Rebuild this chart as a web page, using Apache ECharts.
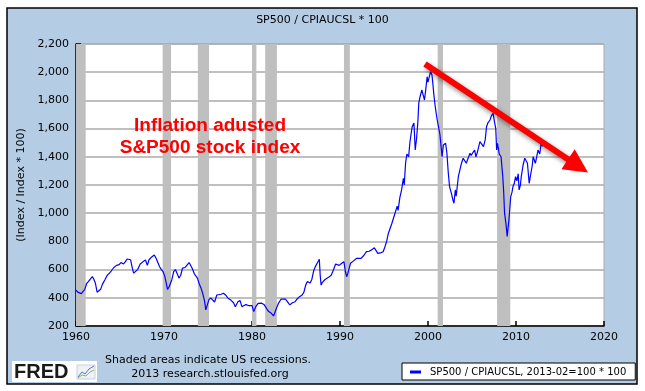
<!DOCTYPE html>
<html><head><meta charset="utf-8">
<script src="https://cdn.jsdelivr.net/npm/echarts/dist/echarts.min.js"></script>
<style>html,body{margin:0;padding:0;background:#fff}#c{width:645px;height:391px}</style>
</head><body><div id="c"></div>
<script>
const chartTitle = 'SP500 / CPIAUCSL * 100';
const seriesName = 'SP500 / CPIAUCSL, 2013-02=100 * 100';
const yAxisName = '(Index / Index * 100)';
const xTicks = [1960, 1970, 1980, 1990, 2000, 2010, 2020];
const yTicks = [200, 400, 600, 800, 1000, 1200, 1400, 1600, 1800, 2000, 2200];

const dates = [
1960.0,1960.2,1960.4,1960.6,1960.8,1961.0,1961.2,1961.4,1961.6,1961.85,
1962.0,1962.2,1962.4,1962.55,1962.8,1963.0,1963.3,1963.55,1963.8,1964.0,
1964.3,1964.6,1964.9,1965.1,1965.4,1965.6,1965.8,1966.0,1966.2,1966.4,
1966.55,1966.75,1967.0,1967.3,1967.6,1967.9,1968.1,1968.3,1968.6,1968.9,
1969.1,1969.3,1969.5,1969.7,1969.9,1970.1,1970.4,1970.6,1970.9,1971.1,
1971.3,1971.5,1971.7,1971.9,1972.1,1972.4,1972.6,1972.85,1973.0,1973.2,
1973.45,1973.6,1973.8,1974.0,1974.2,1974.4,1974.6,1974.75,1974.9,1975.1,
1975.3,1975.5,1975.75,1976.0,1976.2,1976.5,1976.75,1977.0,1977.3,1977.6,
1977.9,1978.1,1978.4,1978.65,1978.85,1979.0,1979.3,1979.6,1979.8,1980.0,
1980.2,1980.45,1980.7,1980.9,1981.1,1981.4,1981.7,1981.9,1982.2,1982.45,
1982.6,1982.8,1983.0,1983.3,1983.5,1983.8,1984.0,1984.3,1984.6,1984.9,
1985.1,1985.4,1985.7,1985.9,1986.1,1986.3,1986.6,1986.8,1987.0,1987.2,
1987.45,1987.65,1987.75,1987.85,1988.0,1988.3,1988.7,1989.0,1989.25,1989.5,
1989.7,1989.9,1990.2,1990.45,1990.6,1990.75,1990.85,1991.0,1991.2,1991.5,
1991.9,1992.1,1992.4,1992.7,1993.0,1993.3,1993.6,1993.9,1994.1,1994.3,
1994.6,1994.9,1995.1,1995.3,1995.5,1995.9,1996.25,1996.5,1996.6,1996.8,
1997.0,1997.2,1997.3,1997.45,1997.6,1997.8,1997.95,1998.2,1998.4,1998.55,
1998.7,1998.85,1998.95,1999.1,1999.3,1999.45,1999.6,1999.75,1999.9,2000.0,
2000.15,2000.3,2000.45,2000.55,2000.65,2000.8,2000.95,2001.05,2001.2,2001.35,
2001.45,2001.6,2001.75,2001.9,2002.0,2002.15,2002.3,2002.45,2002.55,2002.65,
2002.85,2002.95,2003.1,2003.2,2003.45,2003.6,2003.8,2004.0,2004.1,2004.35,
2004.55,2004.77,2004.9,2005.1,2005.3,2005.45,2005.6,2005.9,2006.1,2006.3,
2006.5,2006.65,2006.8,2007.05,2007.2,2007.4,2007.55,2007.7,2007.8,2007.9,
2008.1,2008.3,2008.5,2008.6,2008.7,2008.85,2009.0,2009.1,2009.2,2009.4,
2009.55,2009.65,2009.8,2009.95,2010.1,2010.25,2010.35,2010.5,2010.6,2010.8,
2011.0,2011.15,2011.3,2011.5,2011.6,2011.7,2011.85,2011.95,2012.2,2012.35,
2012.5,2012.7,2012.85,2013.0,2013.1
];
const values = [
455,440,445,430,425,460,500,515,525,550,
535,505,440,436,460,495,530,560,575,590,
615,630,635,650,640,655,675,687,670,610,
575,562,600,640,655,668,630,670,690,704,
680,650,620,600,585,550,460,480,530,585,
600,570,540,560,610,615,620,650,640,610,
570,560,540,500,470,432,380,314,320,385,
400,397,370,420,432,425,432,420,395,384,
365,337,372,380,337,350,352,345,337,345,
302,340,360,372,362,350,320,302,290,271,
285,330,360,390,400,390,380,350,365,372,
390,408,420,440,490,515,505,530,590,621,
650,673,560,490,510,530,545,560,597,640,
650,630,645,655,590,550,565,600,645,660,
680,690,680,700,727,730,740,755,735,715,
718,727,760,800,858,929,1000,1050,1020,1110,
1165,1248,1200,1354,1420,1400,1507,1613,1640,1448,
1530,1649,1780,1826,1874,1860,1803,1880,1968,1930,
1968,2004,1980,1921,1850,1767,1700,1661,1610,1560,
1496,1400,1484,1470,1496,1425,1290,1188,1165,1142,
1090,1071,1165,1120,1259,1300,1354,1390,1400,1354,
1340,1425,1410,1400,1448,1400,1430,1507,1490,1472,
1520,1613,1640,1661,1690,1708,1650,1600,1448,1496,
1420,1400,1259,1150,1000,929,835,900,953,1118,
1150,1188,1210,1259,1230,1280,1165,1200,1259,1340,
1390,1400,1354,1212,1250,1259,1340,1400,1354,1400,
1448,1420,1496,1475,1510
];
const recessionStarts = [1960.0, 1969.85, 1973.85, 1980.0, 1981.5, 1990.45, 2001.1, 2007.85];
const recessionEnds   = [1961.1, 1970.8, 1975.12, 1980.5, 1982.83, 1991.12, 2001.7, 2009.35];

const arrowFrom = [1999.66, 2058];
const arrowTo = [2017.05, 1335];
const noteLines = ['Inflation adusted', 'S&P500 stock index'];

const FONT = 'DejaVu Sans';
const chart = echarts.init(document.getElementById('c'), null, {renderer: 'canvas'});
const lineData = dates.map((d, i) => [d, values[i]]);
const bands = recessionStarts.map((s, i) => [{xAxis: s}, {xAxis: recessionEnds[i]}]);

chart.setOption({
  animation: false,
  backgroundColor: '#ffffff',
  title: {
    text: chartTitle, left: 'center', top: 10,
    textStyle: {fontFamily: FONT, fontSize: 11, fontWeight: 'normal', color: '#000'}
  },
  legend: {
    left: 402, top: 363,
    backgroundColor: '#fff', borderColor: '#000', borderWidth: 1, borderRadius: 0,
    padding: [4, 9, 3, 8],
    itemWidth: 11, itemHeight: 3, icon: 'rect',
    textStyle: {fontFamily: FONT, fontSize: 10, color: '#000', padding: [0, 0, 0, 4]},
    data: [seriesName]
  },
  grid: {
    left: 76, right: 41, top: 44, bottom: 65,
    show: true, backgroundColor: '#fff', borderColor: '#aaaaaa', borderWidth: 1
  },
  xAxis: {
    type: 'value', min: 1960, max: 2020, interval: 10,
    axisLine: {show: true, onZero: false, lineStyle: {color: '#000', width: 1.5}},
    axisTick: {show: true, inside: true, length: 5, lineStyle: {color: '#000', width: 1.5}},
    axisLabel: {fontFamily: FONT, fontSize: 11, color: '#000', margin: 6, formatter: v => String(v)},
    splitLine: {show: false}
  },
  yAxis: {
    type: 'value', min: 200, max: 2200, interval: 200,
    name: yAxisName, nameLocation: 'middle', nameGap: 48, nameRotate: 90,
    nameTextStyle: {fontFamily: FONT, fontSize: 11, color: '#000'},
    axisLine: {show: true, lineStyle: {color: '#000', width: 1.5}},
    axisTick: {show: true, inside: true, length: 5, lineStyle: {color: '#000', width: 1.5}},
    axisLabel: {fontFamily: FONT, fontSize: 11, color: '#000', margin: 7,
      formatter: v => v.toLocaleString('en-US')},
    splitLine: {show: true, lineStyle: {color: '#aaaaaa', width: 1.5}}
  },
  series: [
    {
      name: 'recessions', type: 'line', data: [], z: 1, silent: true,
      markArea: {silent: true, itemStyle: {color: '#bfbfbf', opacity: 1}, data: bands}
    },
    {
      name: seriesName, type: 'line', data: lineData, z: 3,
      showSymbol: false, symbol: 'none',
      lineStyle: {color: '#0000ff', width: 1.2}, itemStyle: {color: '#0000ff'},
      markLine: {
        silent: true, animation: false,
        label: {show: false},
        lineStyle: {color: '#ff0000', width: 6, type: 'solid', opacity: 1,
          shadowBlur: 5, shadowColor: 'rgba(0,0,0,0.45)', shadowOffsetX: 2, shadowOffsetY: 3},
        emphasis: {disabled: true},
        data: [[
          {coord: arrowFrom, symbol: 'none'},
          {coord: arrowTo, symbol: 'triangle', symbolSize: [24, 24]}
        ]]
      }
    }
  ],
  graphic: [
    {type: 'rect', z: -100, silent: true, shape: {x: 7, y: 8, width: 630, height: 376},
     style: {fill: '#b4cde5', stroke: '#000', lineWidth: 1.5}},
    {type: 'text', z: 100, left: null, x: 210, y: 126, silent: true,
     style: {text: noteLines[0], fill: '#ff0000', font: 'bold 19px "Liberation Sans", Arial', textAlign: 'center', textVerticalAlign: 'middle'}},
    {type: 'text', z: 100, x: 210, y: 148, silent: true,
     style: {text: noteLines[1], fill: '#ff0000', font: 'bold 19px "Liberation Sans", Arial', textAlign: 'center', textVerticalAlign: 'middle'}},
    {type: 'text', z: 100, x: 105, y: 360, silent: true,
     style: {text: 'Shaded areas indicate US recessions.', fill: '#000', font: '11px "DejaVu Sans"', textAlign: 'left', textVerticalAlign: 'middle'}},
    {type: 'text', z: 100, x: 210, y: 374, silent: true,
     style: {text: '2013 research.stlouisfed.org', fill: '#000', font: '11px "DejaVu Sans"', textAlign: 'center', textVerticalAlign: 'middle'}},
    {type: 'rect', z: 100, silent: true, shape: {x: 12, y: 361, width: 85, height: 21}, style: {fill: '#fff'}},
    {type: 'text', z: 101, x: 14, y: 372, silent: true,
     style: {text: 'FRED', fill: '#1a1a1a', font: 'bold 20px "Liberation Sans", Arial', textAlign: 'left', textVerticalAlign: 'middle'}},
    {type: 'rect', z: 101, silent: true, shape: {x: 77, y: 365, width: 18, height: 14}, style: {fill: '#eef2f6', stroke: '#c8d0d8', lineWidth: 1}},
    {type: 'polyline', z: 102, silent: true, shape: {points: [[78, 377], [82, 372], [85, 374], [89, 369], [94, 366]]}, style: {stroke: '#5577bb', lineWidth: 1, fill: null}},
    {type: 'polyline', z: 102, silent: true, shape: {points: [[78, 378], [82, 375], [86, 376], [90, 372], [94, 370]]}, style: {stroke: '#88bb44', lineWidth: 1, fill: null}}
  ]
});
</script>
</body></html>
